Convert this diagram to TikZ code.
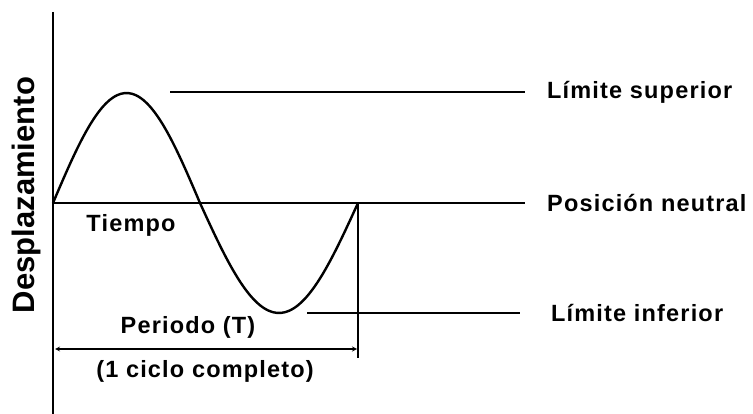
\documentclass[tikz,border=0pt]{standalone}
\usepackage{fontspec}
\setmainfont{Liberation Sans}
\newfontfamily\lblfont{Liberation Sans}[LetterSpace=5]
\begin{document}
\begin{tikzpicture}[x=1pt,y=-1pt,
    lbl/.style={font=\lblfont\bfseries\fontsize{23.5}{26}\selectfont, inner sep=0pt},
    wave/.style={line width=2.4pt, smooth, samples=40, domain=0:1, variable=\t}]
    \useasboundingbox (0,0) rectangle (753,414);
    % Axis
    \draw[line width=1.5pt] (53,12) -- (53,414);
    \node[rotate=90, font=\bfseries\fontsize{31}{34}\selectfont] (disp) at (26,195) {Desplazamiento};

    % One cycle of the wave
    \draw[wave] plot ({53+147*\t}, {203-110*sin(180*\t)});
    \draw[wave] plot ({200+158*\t}, {203+110*sin(180*\t)});

    % Levels
    \node[lbl, anchor=west] (sup) at (547,92) {Límite superior};
    \node[lbl, anchor=west] (neu) at (547,203) {Posición neutral};
    \node[lbl, anchor=west] (inf) at (551,313) {Límite inferior};
    \coordinate (o) at (53,203);
    \coordinate (top) at (170,92);
    \coordinate (bot) at (307,313);
    \draw[line width=1.6pt] (top) -- ([xshift=-22pt]sup.west);
    \draw[line width=1.6pt] (o) -- ([xshift=-22pt]neu.west);
    \draw[line width=1.6pt] (bot) -- ([xshift=-31pt]inf.west);
    \node[lbl] (tiempo) at (131,225) {Tiempo};

    % Period
    \coordinate (e) at (358,203);
    \coordinate (eb) at (358,358);
    \coordinate (pa) at (55,349);
    \coordinate (pb) at (357,349);
    \draw[line width=1.6pt] (e) -- (eb);
    \draw[<->, >=stealth, line width=1.2pt] (pa) -- (pb);
    \node[lbl] (per) at (188,327) {Periodo (T)};
    \node[lbl] (ciclo) at (205,371) {(1 ciclo completo)};
\end{tikzpicture}
\end{document}
